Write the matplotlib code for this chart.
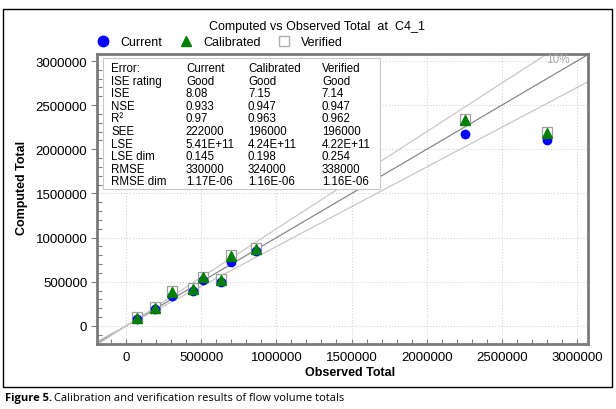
import matplotlib.pyplot as plt
from matplotlib.patches import Rectangle
from matplotlib.lines import Line2D
from matplotlib.ticker import MultipleLocator
import numpy as np

plt.rcParams['font.family'] = ['Liberation Sans', 'DejaVu Sans']

# observed totals and computed totals per run
observed = [75000, 193000, 304000, 448000, 514000, 630000, 698000, 865000, 2257000, 2798000]
current = [79000, 188000, 345000, 396000, 524000, 498000, 721000, 849000, 2174000, 2106000]
calibrated = [94000, 207000, 385000, 419000, 551000, 524000, 789000, 872000, 2332000, 2181000]
verified = [102000, 214000, 400000, 425000, 558000, 530000, 803000, 880000, 2345000, 2195000]

# error statistics table
stat_names = ["Error:", "ISE rating", "ISE", "NSE", "R²", "SEE", "LSE", "LSE dim", "RMSE", "RMSE dim"]
stat_current = ["Current", "Good", "8.08", "0.933", "0.97", "222000", "5.41E+11", "0.145", "330000", "1.17E-06"]
stat_calibrated = ["Calibrated", "Good", "7.15", "0.947", "0.963", "196000", "4.24E+11", "0.198", "324000", "1.16E-06"]
stat_verified = ["Verified", "Good", "7.14", "0.947", "0.962", "196000", "4.22E+11", "0.254", "338000", "1.16E-06"]

fig = plt.figure(figsize=(6.16, 4.10), dpi=100)
ax = fig.add_axes([0.1575, 0.1585, 0.797, 0.7073])

xlim = (-193000, 3073000)
ylim = (-204000, 3079000)
ax.set_xlim(xlim)
ax.set_ylim(ylim)

# 1:1 line and +/-10% bands
xx = np.array([-500000, 3500000])
ax.plot(xx, xx, color='#888888', lw=0.9, zorder=2)
ax.plot(xx, xx * 1.1, color='#c8c8c8', lw=0.9, zorder=2)
ax.plot(xx, xx * 0.9, color='#c8c8c8', lw=0.9, zorder=2)
ax.text(2874000, 3023000, "10%", color='#a8a8a8', fontsize=8.5, ha='center', va='center')

ax.plot(observed, verified, 's', ms=6.5, mfc='white', mec='#a0a0a0', mew=0.9, zorder=3)
ax.plot(observed, current, 'o', ms=6, color='#0000ff', zorder=4)
ax.plot(observed, calibrated, '^', ms=6.5, color='#007f00', zorder=5)

ax.xaxis.set_major_locator(MultipleLocator(500000))
ax.yaxis.set_major_locator(MultipleLocator(500000))
ax.xaxis.set_minor_locator(MultipleLocator(100000))
ax.yaxis.set_minor_locator(MultipleLocator(100000))
ax.ticklabel_format(style='plain', useOffset=False)
ax.grid(which='major', color='#d4d4d4', linestyle=':', lw=0.8, zorder=0)

ax.tick_params(axis='both', which='major', labelsize=9.5, colors='#808080', labelcolor='black')
ax.tick_params(axis='y', which='major', direction='out', length=4.5, width=0.8, pad=2.5)
ax.tick_params(axis='x', which='major', direction='in', length=3.5, width=0.8, pad=5)
ax.tick_params(axis='both', which='minor', direction='in', length=3.5, width=0.8, colors='#808080')
for sp in ax.spines.values():
    sp.set_color('#7a7a7a')
    sp.set_linewidth(2)

ax.set_xlabel("Observed Total", fontsize=9, fontweight='bold', va='center')
ax.xaxis.set_label_coords(0.515, -0.097)
ax.set_ylabel("Computed Total", fontsize=9, fontweight='bold', va='center')
ax.yaxis.set_label_coords(-0.153, 0.54)

# statistics box
ax.add_patch(Rectangle((0.012, 0.534), 0.564, 0.452, transform=ax.transAxes,
                       facecolor='white', edgecolor='#c8c8c8', lw=0.8, zorder=6))
col_x = [0.0285, 0.181, 0.3075, 0.458]
row_top = 0.952
row_step = 12.6 / 290
for i in range(len(stat_names)):
    y = row_top - i * row_step
    for cx, col in zip(col_x, [stat_names, stat_current, stat_calibrated, stat_verified]):
        ax.text(cx, y, col[i], transform=ax.transAxes, fontsize=8.3, va='center', zorder=7)

fig.text(0.515, 0.934, "Computed vs Observed Total  at  C4_1", fontsize=9, ha='center', va='center')

handles = [Line2D([], [], marker='o', ls='', ms=7.5, color='#0000ff'),
           Line2D([], [], marker='^', ls='', ms=7, color='#007f00'),
           Line2D([], [], marker='s', ls='', ms=7, mfc='white', mec='#b0b0b0')]
fig.legend(handles, ["Current", "Calibrated", "Verified"], ncol=3, frameon=False,
           loc='center left', bbox_to_anchor=(0.147, 0.895), fontsize=9,
           handlelength=1.0, handletextpad=0.9, columnspacing=1.35, borderpad=0)

# outer frame and caption
fig.add_artist(Rectangle((0.005, 0.0537), 0.9885, 0.922, transform=fig.transFigure,
                         fill=False, edgecolor='black', lw=1))
t1 = fig.text(0.008, 0.029, "Figure 5.", fontsize=8, fontweight='bold',
              family=['Open Sans', 'DejaVu Sans'], va='center')
fig.canvas.draw()
bb = t1.get_window_extent(fig.canvas.get_renderer())
fig.text(bb.x1 / fig.bbox.width + 0.003, 0.029, "Calibration and verification results of flow volume totals",
         fontsize=8, family=['Open Sans', 'DejaVu Sans'], va='center')

fig.savefig("out.png", dpi=100)
